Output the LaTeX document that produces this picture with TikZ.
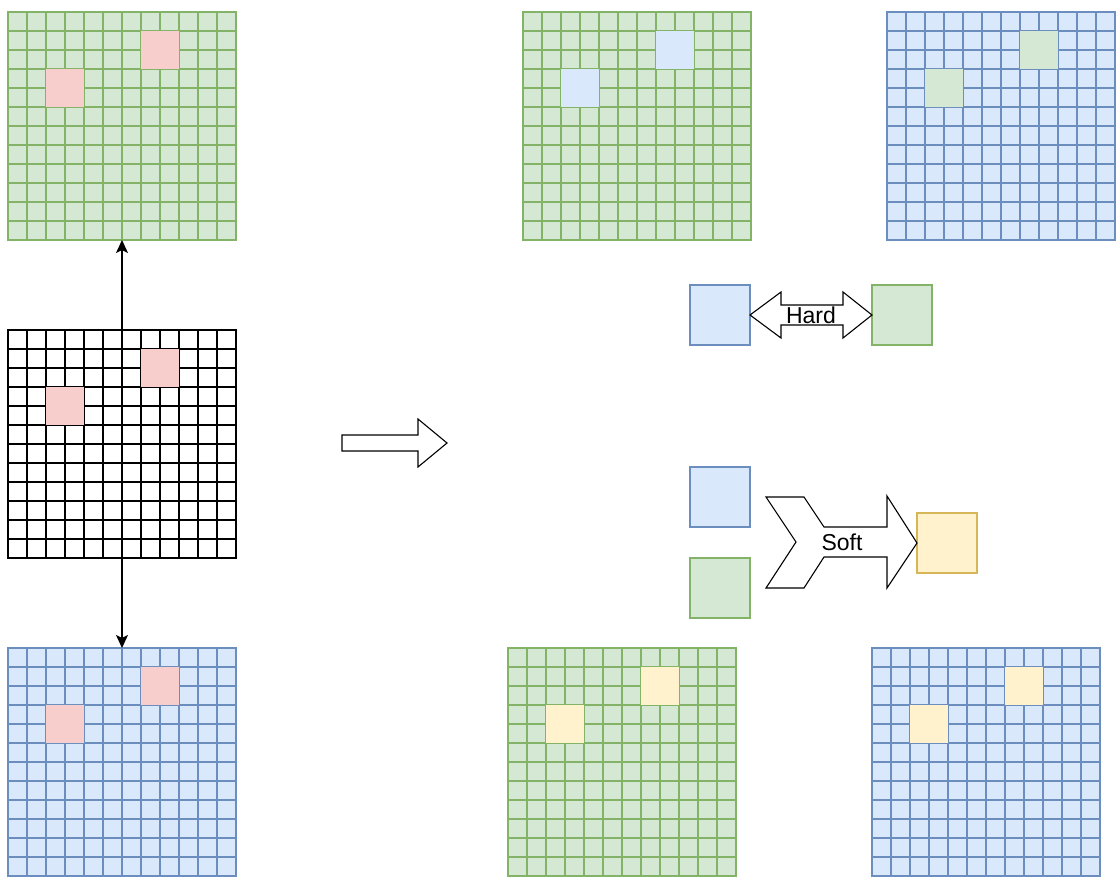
\documentclass[tikz,border=0pt]{standalone}
\usepackage{fontspec}
\setmainfont{Liberation Sans}
\usetikzlibrary{arrows.meta}

\definecolor{gfill}{HTML}{D5E8D4}
\definecolor{gline}{HTML}{82B366}
\definecolor{bfill}{HTML}{DAE8FC}
\definecolor{bline}{HTML}{6C8EBF}
\definecolor{yfill}{HTML}{FFF2CC}
\definecolor{yline}{HTML}{D6B656}
\definecolor{pfill}{HTML}{F8CECC}

% A 12x12 feature map: name, left, top, fill, line colour, patch colour
\newcommand{\featmap}[6]{%
  \node[mapbox, fill=#4, draw=#5] (#1) at (#2+114,#3+114) {};
  \foreach \k in {1,...,11} {
    \draw[#5, gridline] (#2+19*\k,#3) -- ++(0,228);
    \draw[#5, gridline] (#2,#3+19*\k) -- ++(228,0);
  }
  \fill[#6] (#2+38,#3+57) rectangle ++(38,38);
  \fill[#6] (#2+133,#3+19) rectangle ++(38,38);
}

\tikzset{
  mapbox/.style={rectangle, minimum size=228pt, inner sep=0pt, outer sep=0pt, line width=1.1pt},
  gridline/.style={line width=1.1pt},
  tile/.style={rectangle, minimum size=60pt, inner sep=0pt, outer sep=0pt, line width=1.1pt},
  conn/.style={line width=1.1pt, -{Stealth[length=13pt,width=12pt,inset=3pt]}},
  bigarrow/.style={draw=black, fill=white, line width=1.1pt, line join=miter},
  lbl/.style={font=\fontsize{23}{27}\selectfont, inner sep=0pt}
}

\begin{document}
\begin{tikzpicture}[x=1pt, y=-1pt]
  \useasboundingbox (0,0) rectangle (1117,878);

  % input and the two augmented views
  \featmap{topl}{8}{12}{gfill}{gline}{pfill}
  \featmap{mid}{8}{330}{white}{black}{pfill}
  \featmap{botl}{8}{648}{bfill}{bline}{pfill}

  % mixed maps, hard
  \featmap{hardg}{523}{12}{gfill}{gline}{bfill}
  \featmap{hardb}{887}{12}{bfill}{bline}{gfill}

  % mixed maps, soft
  \featmap{softg}{508}{648}{gfill}{gline}{yfill}
  \featmap{softb}{872}{648}{bfill}{bline}{yfill}

  % connectors from the input map
  \draw[conn] (mid.north) -- (topl.south);
  \draw[conn] (mid.south) -- (botl.north);

  % central arrow
  \draw[bigarrow] (342,435) -- (418,435) -- (418,419) -- (447,443)
    -- (418,467) -- (418,451) -- (342,451) -- cycle;

  % hard mixing
  \node[tile, fill=bfill, draw=bline] (hb) at (720,315) {};
  \node[tile, fill=gfill, draw=gline] (hg) at (902,315) {};
  \draw[bigarrow] (hb.east) -- (781,292) -- (781,305) -- (843,305) -- (843,292)
    -- (hg.west) -- (843,338) -- (843,325) -- (781,325) -- (781,338) -- cycle;
  \node[lbl, fill=white] (hard) at (811,315) {Hard};

  % soft mixing
  \node[tile, fill=bfill, draw=bline] (sb) at (720,497) {};
  \node[tile, fill=gfill, draw=gline] (sg) at (720,588) {};
  \node[tile, fill=yfill, draw=yline] (sy) at (947,543) {};
  \draw[bigarrow] (766,497) -- (804,497) -- (824,527) -- (887,527) -- (887,496)
    -- (sy.west) -- (887,588) -- (887,557) -- (824,557) -- (804,588)
    -- (766,588) -- (796,542) -- cycle;
  \node[lbl] (soft) at (842,542) {Soft};
\end{tikzpicture}
\end{document}
